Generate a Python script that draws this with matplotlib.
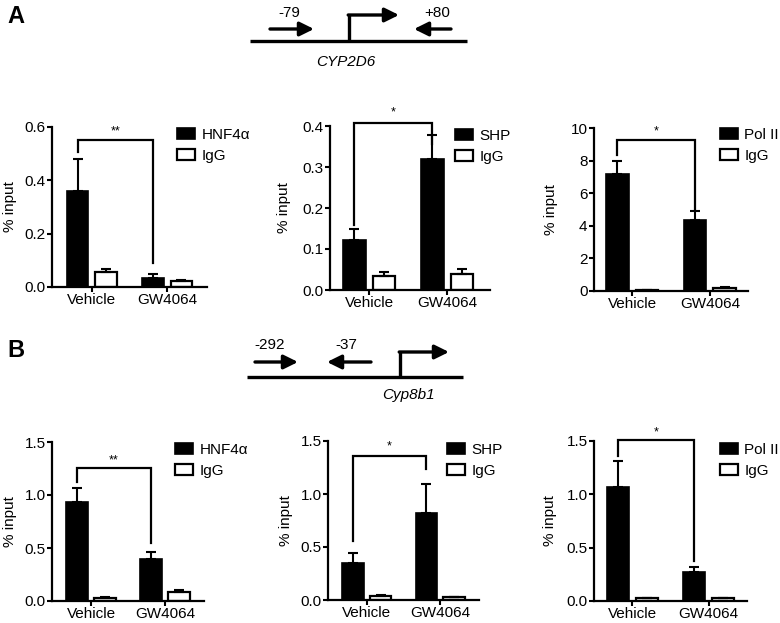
import matplotlib
matplotlib.use("Agg")
import matplotlib.pyplot as plt
from matplotlib.patches import Patch
import numpy as np

plt.rcParams['font.family'] = ['Liberation Sans', 'DejaVu Sans']

groups = ["Vehicle", "GW4064"]

# ---- Panel A: CYP2D6 ----
a_hnf4a = [0.359, 0.034]
a_hnf4a_err = [0.121, 0.015]
a_hnf4a_igg = [0.055, 0.024]
a_hnf4a_igg_err = [0.014, 0.004]

a_shp = [0.122, 0.320]
a_shp_err = [0.026, 0.057]
a_shp_igg = [0.033, 0.040]
a_shp_igg_err = [0.012, 0.011]

a_pol2 = [7.19, 4.36]
a_pol2_err = [0.76, 0.52]
a_pol2_igg = [0.05, 0.20]
a_pol2_igg_err = [0.02, 0.05]

# ---- Panel B: Cyp8b1 ----
b_hnf4a = [0.938, 0.400]
b_hnf4a_err = [0.126, 0.064]
b_hnf4a_igg = [0.032, 0.085]
b_hnf4a_igg_err = [0.008, 0.015]

b_shp = [0.347, 0.818]
b_shp_err = [0.100, 0.278]
b_shp_igg = [0.041, 0.028]
b_shp_igg_err = [0.005, 0.004]

b_pol2 = [1.072, 0.272]
b_pol2_err = [0.240, 0.050]
b_pol2_igg = [0.025, 0.025]
b_pol2_igg_err = [0.003, 0.003]

ticks_a_hnf4a = [0.0, 0.2, 0.4, 0.6]
ticklabels_a_hnf4a = ["0.0", "0.2", "0.4", "0.6"]
ticks_a_shp = [0.0, 0.1, 0.2, 0.3, 0.4]
ticklabels_a_shp = ["0.0", "0.1", "0.2", "0.3", "0.4"]
ticks_a_pol2 = [0, 2, 4, 6, 8, 10]
ticklabels_a_pol2 = ["0", "2", "4", "6", "8", "10"]
ticks_b = [0.0, 0.5, 1.0, 1.5]
ticklabels_b = ["0.0", "0.5", "1.0", "1.5"]

W, H = 780, 623
fig = plt.figure(figsize=(W / 100, H / 100), dpi=100)
fig.patch.set_facecolor('white')

FS = 11


def add_px_axes(left, right, top, bottom):
    return fig.add_axes([left / W, 1 - bottom / H, (right - left) / W, (bottom - top) / H])


def draw_panel(box, label, ab, ab_err, igg, igg_err, ymax, ticks, ticklabels,
               stars, bracket, xlim, ylab_x, legend_xy):
    ax = add_px_axes(*box)
    x = np.arange(len(groups))
    off, w = 0.19, 0.29
    ekw = dict(elinewidth=1.5, capthick=1.5, ecolor='black')
    ax.bar(x - off, ab, w, color='black', edgecolor='black', lw=1.2,
           yerr=[np.zeros(len(ab)), ab_err], capsize=3.5, error_kw=ekw, zorder=2)
    ax.bar(x + off, igg, w, color='white', edgecolor='black', lw=1.6,
           yerr=[np.zeros(len(igg)), igg_err], capsize=3.5, error_kw=ekw, zorder=2)
    ax.set_xlim(*xlim)
    ax.set_ylim(0, ymax)
    ax.set_xticks(x)
    ax.set_xticklabels(groups, fontsize=FS)
    ax.set_yticks(ticks)
    ax.set_yticklabels(ticklabels, fontsize=FS)
    for s in ['top', 'right']:
        ax.spines[s].set_visible(False)
    for s in ['left', 'bottom']:
        ax.spines[s].set_linewidth(1.6)
    ax.tick_params(axis='both', direction='out', length=3.8, width=1.5, labelsize=FS)
    ax.tick_params(axis='y', pad=0.8)
    ax.tick_params(axis='x', pad=0.3)
    ax.set_ylabel("% input", fontsize=FS)
    ax.yaxis.set_label_coords(ylab_x, 0.5)
    ax.patch.set_alpha(0)
    # significance bracket
    bl, br, bt, sy = bracket
    x0, x1 = x[0] - off, x[1] - off
    ax.plot([x0, x0, x1, x1], [bl, bt, bt, br], color='black', lw=1.6,
            clip_on=False, solid_joinstyle='miter', zorder=3)
    ax.text((x0 + x1) / 2, sy, stars, ha='center', va='center', fontsize=9,
            clip_on=False)
    handles = [Patch(facecolor='black', edgecolor='black', lw=1.2),
               Patch(facecolor='white', edgecolor='black', lw=1.6)]
    fig.legend(handles, [label, "IgG"], loc='upper left',
               bbox_to_anchor=(legend_xy[0] / W, 1 - legend_xy[1] / H),
               bbox_transform=fig.transFigure, frameon=False, fontsize=FS,
               handlelength=1.2, handleheight=0.7, handletextpad=0.4,
               labelspacing=0.45, borderpad=0, borderaxespad=0)
    return ax


# Row A
draw_panel((52, 207, 127, 287), "HNF4\u03b1", a_hnf4a, a_hnf4a_err, a_hnf4a_igg, a_hnf4a_igg_err,
           0.6, ticks_a_hnf4a, ticklabels_a_hnf4a, "**", (0.505, 0.09, 0.55, 0.585),
           (-0.53, 1.53), -0.226, (177, 128))
draw_panel((330, 490, 126, 290), "SHP", a_shp, a_shp_err, a_shp_igg, a_shp_igg_err,
           0.4, ticks_a_shp, ticklabels_a_shp, "*", (0.159, 0.357, 0.408, 0.433),
           (-0.5, 1.55), -0.244, (455, 129))
draw_panel((594, 748, 128, 291), "Pol II", a_pol2, a_pol2_err, a_pol2_igg, a_pol2_igg_err,
           10, ticks_a_pol2, ticklabels_a_pol2, "*", (8.36, 5.02, 9.28, 9.8),
           (-0.49, 1.49), -0.234, (720, 128))
# Row B
draw_panel((52, 204, 442, 601), "HNF4\u03b1", b_hnf4a, b_hnf4a_err, b_hnf4a_igg, b_hnf4a_igg_err,
           1.5, ticks_b, ticklabels_b, "**", (1.12, 0.55, 1.254, 1.33),
           (-0.53, 1.53), -0.230, (175, 443))
draw_panel((328, 479, 441, 600), "SHP", b_shp, b_shp_err, b_shp_igg, b_shp_igg_err,
           1.5, ticks_b, ticklabels_b, "*", (0.559, 1.238, 1.355, 1.45),
           (-0.53, 1.53), -0.232, (447, 443))
draw_panel((594, 747, 441, 601), "Pol II", b_pol2, b_pol2_err, b_pol2_igg, b_pol2_igg_err,
           1.5, ticks_b, ticklabels_b, "*", (1.36, 0.375, 1.51, 1.58),
           (-0.5, 1.5), -0.242, (720, 443))

# ---- Gene diagrams and panel letters (figure overlay in pixel coords) ----
ov = fig.add_axes([0, 0, 1, 1])
ov.set_xlim(0, W)
ov.set_ylim(H, 0)
ov.axis('off')

LW = 2.4
arrow_kw = dict(arrowstyle='-|>,head_length=0.85,head_width=0.42', lw=LW, color='black',
                shrinkA=0, shrinkB=0, mutation_scale=10)


def arrow(x0, y0, x1, y1):
    ov.annotate('', xy=(x1, y1), xytext=(x0, y0), arrowprops=arrow_kw)


ov.text(7, 23, "A", fontsize=17, fontweight='bold', ha='left', va='baseline')
ov.text(7, 357, "B", fontsize=17, fontweight='bold', ha='left', va='baseline')

# CYP2D6
ov.plot([250, 467], [41, 41], color='black', lw=LW, solid_capstyle='butt')
ov.plot([349, 349], [41, 15], color='black', lw=LW, solid_capstyle='butt')
arrow(348.2, 15, 399, 15)
arrow(270, 29, 314, 29)
arrow(451, 29, 414, 29)
ov.text(289, 13, "-79", fontsize=FS, ha='center', va='center')
ov.text(437, 13, "+80", fontsize=FS, ha='center', va='center')
ov.text(346, 62, "CYP2D6", fontsize=FS, style='italic', ha='center', va='center')

# Cyp8b1
ov.plot([247, 463], [377, 377], color='black', lw=LW, solid_capstyle='butt')
ov.plot([400, 400], [377, 352], color='black', lw=LW, solid_capstyle='butt')
arrow(399.2, 352, 449, 352)
arrow(255, 362, 298, 362)
arrow(371, 362, 327, 362)
ov.text(270, 345, "-292", fontsize=FS, ha='center', va='center')
ov.text(346, 345, "-37", fontsize=FS, ha='center', va='center')
ov.text(408, 395, "Cyp8b1", fontsize=FS, style='italic', ha='center', va='center')

fig.savefig("out.png", dpi=100, facecolor='white')
